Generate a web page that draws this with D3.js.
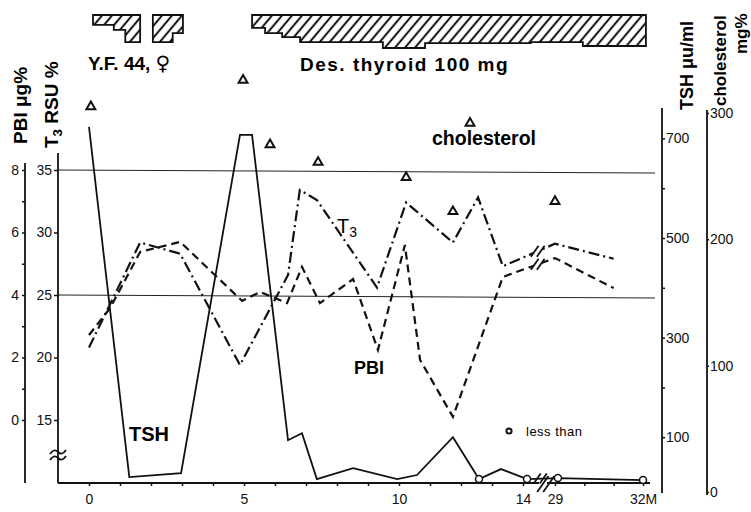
<!DOCTYPE html>
<html>
<head>
<meta charset="utf-8">
<script src="https://cdn.jsdelivr.net/npm/d3@7"></script>
<style>
  body { margin: 0; background: #fff; }
  svg { display: block; font-family: "Liberation Sans", "DejaVu Sans", sans-serif; }
</style>
</head>
<body>
<svg id="chart" width="751" height="512"></svg>
<script>
// months (after the break the axis jumps from 14 to 29)
const tshMonths = [0, 1.3, 2.97, 4.87, 5.26, 6.42, 6.87, 7.35, 8.52, 9.94, 10.58, 11.74, 12.58, 13.29, 14.13, 29.1, 32];
const tshValues = [723, 20, 28, 707, 707, 94, 108, 16, 38, 16, 24, 100, 16, 36, 16, 18, 14];
const tshLessThan = [false, false, false, false, false, false, false, false, false, false, false, false, true, false, true, true, true];

const t3Months = [0, 1.65, 2.94, 4.87, 6.42, 6.8, 7.35, 9.29, 10.23, 11.74, 12.55, 13.35, 29, 31];
const t3Values = [20.8, 29.2, 28.3, 19.4, 26.6, 33.4, 32.6, 25.6, 32.4, 29.2, 32.8, 27.3, 29.1, 27.9];

const pbiMonths = [0, 0.68, 1.65, 2.94, 4.94, 5.52, 6.39, 6.87, 7.45, 8.52, 9.32, 10.19, 10.68, 11.74, 13.35, 29, 31];
const pbiValues = [2.72, 3.58, 5.38, 5.7, 3.81, 4.1, 3.74, 4.9, 3.74, 4.51, 2.24, 5.6, 1.92, 0.1, 4.58, 5.18, 4.22];

const cholMonths = [0.06, 4.97, 5.84, 7.39, 10.23, 11.74, 12.29, 29];
const cholValues = [305, 326, 275, 261, 249, 222, 292, 230];

const xTicks = [0,1,2,3,4,5,6,7,8,9,10,11,12,13,14,29,30,31,32];
const xTickLabels = {0: "0", 5: "5", 10: "10", 14: "14", 29: "29", 32: "32M"};
const pbiTicks = [0, 2, 4, 6, 8];
const rsuTicks = [15, 20, 25, 30, 35];
const tshTicks = [100, 300, 500, 700];
const cholTicks = [0, 100, 200, 300];

// thyroid dosing bars: [start month, end month, depth]
const doseBar1 = [[0.13, 0.8, 30], [0.8, 1.17, 45], [1.17, 1.65, 82]];
const doseBar2 = [[2.06, 2.7, 82], [2.7, 3.03, 55]];
const doseBar3 = [[5.26, 5.68, 39], [5.68, 6.23, 55], [6.23, 6.81, 67], [6.81, 9.48, 82],
                  [9.48, 10.84, 100], [10.84, 14.25, 85], [14.25, 29.95, 82], [29.95, 32.1, 94]];

const svg = d3.select("#chart");

const x = d3.scaleLinear().domain([0, 14.25, 29, 32]).range([89, 530.75, 555, 643]);
const pbiY = d3.scaleLinear().domain([0, 8]).range([420, 170]);
const rsuY = d3.scaleLinear().domain([15, 35]).range([420, 170]);
const tshY = d3.scaleLinear().domain([0, 700]).range([487, 138.4]);
const cholY = d3.scaleLinear().domain([0, 300]).range([492, 113]);
const doseY = d3.scaleLinear().domain([0, 100]).range([15, 48]);

// hatch pattern
const defs = svg.append("defs");
defs.append("pattern")
    .attr("id", "hatch")
    .attr("patternUnits", "userSpaceOnUse")
    .attr("width", 10).attr("height", 10)
    .attr("patternTransform", "skewX(-40)")
    .append("line")
    .attr("x1", 5).attr("y1", 0).attr("x2", 5).attr("y2", 10)
    .attr("stroke", "#111").attr("stroke-width", 2.6);

const drawDose = (steps) => {
    const top = doseY(0);
    const pts = [[x(steps[0][0]), top], [x(steps[steps.length - 1][1]), top]];
    for (let i = steps.length - 1; i >= 0; i--) {
        pts.push([x(steps[i][1]), doseY(steps[i][2])]);
        pts.push([x(steps[i][0]), doseY(steps[i][2])]);
    }
    svg.append("path")
        .attr("d", d3.line()(pts) + "Z")
        .attr("fill", "url(#hatch)")
        .attr("stroke", "#111")
        .attr("stroke-width", 1.8);
};
drawDose(doseBar1);
drawDose(doseBar2);
drawDose(doseBar3);

const yf = svg.append("text").attr("x", 88).attr("y", 70)
    .attr("font-size", 19).attr("font-weight", "bold");
yf.append("tspan").text("Y.F. 44, ");
yf.append("tspan").attr("font-family", "DejaVu Sans").attr("font-size", 20).text("\u2640\uFE0E");
svg.append("text").attr("x", 300).attr("y", 71)
    .attr("font-size", 19).attr("font-weight", "bold").attr("letter-spacing", 1.5)
    .text("Des. thyroid 100 mg");

// normal range lines
[35, 25].forEach(v => {
    svg.append("line")
        .attr("x1", 58).attr("x2", 655)
        .attr("y1", rsuY(v)).attr("y2", rsuY(v) + 3)
        .attr("stroke", "#222").attr("stroke-width", 1);
});

// axes
const axisLine = (x1, y1, x2, y2) => svg.append("line")
    .attr("x1", x1).attr("y1", y1).attr("x2", x2).attr("y2", y2)
    .attr("stroke", "#111").attr("stroke-width", 1.8);

axisLine(25, 163, 25, 483);
axisLine(58, 153, 58, 483);
axisLine(58, 483, 650, 483);
axisLine(662, 108, 662, 493);
axisLine(707, 110, 707, 495);

const pbiAxis = svg.append("g").attr("transform", "translate(25,0)")
    .call(d3.axisLeft(pbiY).tickValues(d3.range(0, 9)).tickSize(3)
        .tickFormat(d => d % 2 === 0 ? d : ""));
const rsuAxis = svg.append("g").attr("transform", "translate(58,0)")
    .call(d3.axisLeft(rsuY).tickValues(rsuTicks).tickSize(4).tickPadding(2));
const tshAxis = svg.append("g").attr("transform", "translate(662,0)")
    .call(d3.axisRight(tshY).tickValues(d3.range(100, 701, 100)).tickSize(3).tickPadding(1)
        .tickFormat(d => tshTicks.includes(d) ? d : ""));
const cholAxis = svg.append("g").attr("transform", "translate(707,0)")
    .call(d3.axisRight(cholY).tickValues(cholTicks).tickSize(2).tickPadding(1));
const xAxis = svg.append("g").attr("transform", "translate(0,483)")
    .call(d3.axisBottom(x).tickValues(xTicks).tickSize(3).tickPadding(8)
        .tickFormat(d => xTickLabels[d] || ""));

[pbiAxis, rsuAxis, tshAxis, cholAxis, xAxis].forEach(g => {
    g.select(".domain").remove();
    g.selectAll(".tick line").attr("stroke", "#111").attr("stroke-width", 1.5);
    g.selectAll("text").attr("font-size", 14).attr("fill", "#111");
});

// axis titles
const vTitle = (tx, ty, parts, size) => {
    const t = svg.append("text")
        .attr("transform", `translate(${tx},${ty}) rotate(-90)`)
        .attr("font-size", size).attr("font-weight", "bold");
    parts.forEach(p => {
        const s = t.append("tspan").text(p.text);
        if (p.sub) s.attr("font-size", size * 0.7).attr("dy", 4);
        if (p.back) s.attr("dy", -4);
    });
};
vTitle(27, 144, [{text: "PBI μg%"}], 19);
vTitle(58, 148, [{text: "T"}, {text: "3", sub: true}, {text: " RSU %", back: true}], 19);
vTitle(693, 110, [{text: "TSH μu/ml"}], 18);
vTitle(726, 106, [{text: "cholesterol"}], 17);
vTitle(747, 54, [{text: "mg%"}], 17);

// axis break marks
const breakMark = (cx, cy, h) => {
    [-3, 3].forEach(dx => {
        svg.append("line")
            .attr("x1", cx + dx - h * 0.35).attr("y1", cy + h / 2)
            .attr("x2", cx + dx + h * 0.35).attr("y2", cy - h / 2)
            .attr("stroke", "#111").attr("stroke-width", 1.8);
    });
};
svg.append("rect").attr("x", 539).attr("y", 480).attr("width", 8).attr("height", 6).attr("fill", "#fff");
breakMark(x(23.4), 484, 16);

[-3, 3].forEach(dy => {
    svg.append("path")
        .attr("d", `M50,${457 + dy} q4,-6 8,-2 q4,4 8,-2`)
        .attr("fill", "none").attr("stroke", "#111").attr("stroke-width", 1.8);
});

// series
const line = d3.line().x(d => x(d[0])).y(d => d[1]);

svg.append("path")
    .attr("d", line(tshMonths.map((m, i) => [m, tshY(tshValues[i])])))
    .attr("fill", "none").attr("stroke", "#111").attr("stroke-width", 1.8);

svg.append("path")
    .attr("d", line(t3Months.map((m, i) => [m, rsuY(t3Values[i])])))
    .attr("fill", "none").attr("stroke", "#111").attr("stroke-width", 2.2)
    .attr("stroke-dasharray", "11,4,2,4");

svg.append("path")
    .attr("d", line(pbiMonths.map((m, i) => [m, pbiY(pbiValues[i])])))
    .attr("fill", "none").attr("stroke", "#111").attr("stroke-width", 2.2)
    .attr("stroke-dasharray", "8,5");

// break marks on the series lines
const yAt = (months, ys, m) => {
    const i = d3.bisectRight(months, m);
    const x0 = x(months[i - 1]), x1 = x(months[i]);
    const t = (x(m) - x0) / (x1 - x0);
    return ys[i - 1] + t * (ys[i] - ys[i - 1]);
};
const bm = 18.5;
svg.append("rect").attr("x", x(bm) - 4).attr("y", 240).attr("width", 8).attr("height", 30).attr("fill", "#fff");
breakMark(x(bm), yAt(t3Months, t3Values.map(v => rsuY(v)), bm), 11);
breakMark(x(bm), yAt(pbiMonths, pbiValues.map(v => pbiY(v)), bm), 11);
breakMark(x(20), yAt(tshMonths, tshValues.map(v => tshY(v)), 20), 10);

svg.selectAll(".lt")
    .data(tshMonths.map((m, i) => ({m, v: tshValues[i], lt: tshLessThan[i]})).filter(d => d.lt))
    .enter().append("circle")
    .attr("cx", d => x(d.m)).attr("cy", d => tshY(d.v)).attr("r", 3.5)
    .attr("fill", "#fff").attr("stroke", "#111").attr("stroke-width", 1.5);

svg.selectAll(".chol")
    .data(cholMonths.map((m, i) => ({m, v: cholValues[i]})))
    .enter().append("path")
    .attr("transform", d => `translate(${x(d.m)},${cholY(d.v)})`)
    .attr("d", d3.symbol(d3.symbolTriangle).size(34))
    .attr("fill", "#fff").attr("stroke", "#111").attr("stroke-width", 2);

// labels
svg.append("text").attr("x", 129).attr("y", 441).attr("font-size", 20).attr("font-weight", "bold").text("TSH");
svg.append("text").attr("x", 354).attr("y", 374).attr("font-size", 18).attr("font-weight", "bold").text("PBI");
const t3 = svg.append("text").attr("x", 337).attr("y", 233).attr("font-size", 20);
t3.append("tspan").text("T");
t3.append("tspan").attr("font-size", 14).attr("dy", 4).text("3");
svg.append("text").attr("x", 432).attr("y", 145).attr("font-size", 19.5).attr("font-weight", "bold").text("cholesterol");

svg.append("circle").attr("cx", 509).attr("cy", 431).attr("r", 2.6)
    .attr("fill", "#fff").attr("stroke", "#111").attr("stroke-width", 2);
svg.append("text").attr("x", 526).attr("y", 436).attr("font-size", 13).attr("letter-spacing", 0.5).text("less than");
</script>
</body>
</html>
